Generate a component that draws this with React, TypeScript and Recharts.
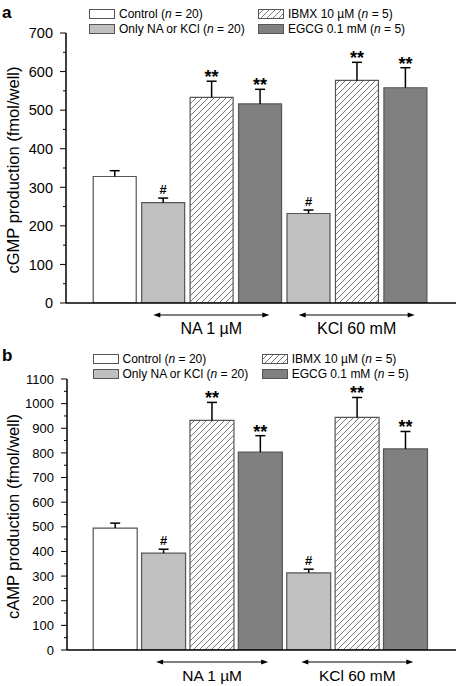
import React from 'react';
import { BarChart, Bar, XAxis, YAxis, Legend, LabelList, Cell } from 'recharts';

const FONT = '"Liberation Sans", Arial, Helvetica, sans-serif';

// Bar slots (x positions) and treatment of each bar
const positions = [1, 2, 3, 4, 5, 6, 7];
const treatments = ['control', 'only', 'ibmx', 'egcg', 'only', 'ibmx', 'egcg'];
const marks = ['', '#', '**', '**', '#', '**', '**'];

// Panel a: cGMP (fmol/well)
const cgmpValues = [328, 260, 533, 516, 232, 577, 558];
const cgmpErrTops = [343, 272, 575, 554, 241, 624, 610];
const cgmpTicks = [0, 50, 100, 150, 200, 250, 300, 350, 400, 450, 500, 550, 600, 650, 700];

// Panel b: cAMP (fmol/well)
const campValues = [495, 393, 932, 803, 313, 944, 816];
const campErrTops = [515, 409, 1005, 870, 328, 1025, 887];
const campTicks = [0, 50, 100, 150, 200, 250, 300, 350, 400, 450, 500, 550, 600, 650, 700, 750, 800, 850, 900, 950, 1000, 1050, 1100];

// Groups under the x axis
const groupCenters = [3, 6];
const groupLabels = ['NA 1 \u00b5M', 'KCl 60 mM'];

// Legend
const legendKeys = ['control', 'ibmx', 'only', 'egcg'];
const legendNames = ['Control', 'IBMX 10 \u00b5M', 'Only NA or KCl', 'EGCG 0.1 mM'];
const legendNs = [20, 5, 20, 5];

const fills: Record<string, string> = {
  control: '#ffffff',
  only: '#c0c0c0',
  ibmx: 'HATCH',
  egcg: '#808080',
};

function fillFor(key: string, hatchId: string) {
  return fills[key] === 'HATCH' ? `url(#${hatchId})` : fills[key];
}

function buildData(values: number[], errTops: number[]) {
  return positions.map((p, i) => ({
    pos: p,
    value: values[i],
    err: errTops[i] - values[i],
    mark: marks[i],
    key: treatments[i],
  }));
}

const HatchDef = ({ id }: { id: string }) => (
  <pattern id={id} patternUnits="userSpaceOnUse" width="6" height="6">
    <rect width="6" height="6" fill="#fff" />
    <path d="M0,6 L6,0 M-1,1 L1,-1 M5,7 L7,5" stroke="#555" strokeWidth="0.8" />
  </pattern>
);

const ErrShape = (props: any) => {
  const { x, y, width, height } = props;
  if (width == null) return null;
  const cx = x + width / 2;
  return (
    <g>
      <line x1={cx} x2={cx} y1={y} y2={y + height} stroke="#000" strokeWidth={1.5} />
      <line x1={cx - 5} x2={cx + 5} y1={y} y2={y} stroke="#000" strokeWidth={1.5} />
    </g>
  );
};

const MarkLabel = (props: any) => {
  const { x, y, width, value } = props;
  if (!value) return null;
  const big = value === '**';
  return (
    <text
      x={x + width / 2}
      y={big ? y + 2 : y - 4}
      textAnchor="middle"
      fontSize={big ? 18 : 13}
      fontWeight="bold"
      fontFamily={FONT}
      fill="#000"
    >
      {value}
    </text>
  );
};

const makeYTick = (fs: number) => (props: any) => {
  const { x, y, payload } = props;
  const major = payload.value % 100 === 0;
  return (
    <g>
      <line x1={x} x2={x - (major ? 6 : 3)} y1={y} y2={y} stroke="#000" strokeWidth={1} />
      {major && (
        <text x={x - 13} y={y} dy="0.36em" textAnchor="end" fontSize={fs} fontFamily={FONT} fill="#000">
          {payload.value}
        </text>
      )}
    </g>
  );
};

const makeXTick = (half: number, arrowDy: number, textDy: number, fs: number) => (props: any) => {
  const { x, y, payload } = props;
  const idx = groupCenters.indexOf(payload.value);
  if (idx < 0) return null;
  const ay = y + arrowDy;
  const x1 = x - half;
  const x2 = x + half;
  return (
    <g>
      <line x1={x1 + 5} x2={x2 - 5} y1={ay} y2={ay} stroke="#000" strokeWidth={1} />
      <path d={`M${x1},${ay} L${x1 + 7},${ay - 2.5} L${x1 + 7},${ay + 2.5} Z`} fill="#000" />
      <path d={`M${x2},${ay} L${x2 - 7},${ay - 2.5} L${x2 - 7},${ay + 2.5} Z`} fill="#000" />
      <text x={x} y={y + textDy} textAnchor="middle" fontSize={fs} fontFamily={FONT} fill="#000">
        {groupLabels[idx]}
      </text>
    </g>
  );
};

const makeLegend = (letter: string, letterTop: number, colX: number[], rowTop: number[], idp: string) => () => (
  <div style={{ position: 'relative', width: 456, height: 40, fontFamily: FONT }}>
    <div style={{ position: 'absolute', left: 2, top: letterTop, fontSize: 17, fontWeight: 'bold', lineHeight: 1 }}>
      {letter}
    </div>
    {legendKeys.map((k, i) => {
      const col = i % 2;
      const row = Math.floor(i / 2);
      const pid = `${idp}-lg-${i}`;
      return (
        <div
          key={k}
          style={{
            position: 'absolute',
            left: colX[col],
            top: rowTop[row] - 1,
            height: 12,
            display: 'flex',
            alignItems: 'center',
            whiteSpace: 'nowrap',
            fontSize: 12,
            lineHeight: '12px',
            color: '#000',
          }}
        >
          <svg width={26} height={10} style={{ display: 'block' }}>
            <defs>
              <HatchDef id={pid} />
            </defs>
            <rect x={0.5} y={0.5} width={25} height={9} fill={fillFor(k, pid)} stroke="#555" strokeWidth={1} />
          </svg>
          <span style={{ marginLeft: 4 }}>
            {legendNames[i]} (<i>n</i> = {legendNs[i]})
          </span>
        </div>
      );
    })}
  </div>
);

type PanelProps = {
  values: number[];
  errTops: number[];
  ticks: number[];
  yMax: number;
  height: number;
  marginTop: number;
  marginBottom: number;
  yWidth: number;
  xMax: number;
  label: string;
  tickFs: number;
  groupFs: number;
  half: number;
  textDy: number;
  letter: string;
  letterTop: number;
  colX: number[];
  rowTop: number[];
  idp: string;
  barSize: number;
};

const Panel = (p: PanelProps) => {
  const data = buildData(p.values, p.errTops);
  const hatchId = `${p.idp}-hatch`;
  const YTick = makeYTick(p.tickFs);
  const XTick = makeXTick(p.half, 12, p.textDy, p.groupFs);
  const LegendContent = makeLegend(p.letter, p.letterTop, p.colX, p.rowTop, p.idp);
  return (
    <BarChart
      width={456}
      height={p.height}
      data={data}
      margin={{ top: p.marginTop, right: 0, left: 0, bottom: p.marginBottom }}
    >
      <defs>
        <HatchDef id={hatchId} />
      </defs>
      <Legend
        content={<LegendContent />}
        layout="horizontal"
        verticalAlign="middle"
        align="center"
        wrapperStyle={{ position: 'absolute', top: 0, left: 0, width: 456, height: 40 }}
      />
      <XAxis
        type="number"
        dataKey="pos"
        domain={[0, p.xMax]}
        ticks={groupCenters}
        tick={<XTick />}
        tickLine={false}
        tickSize={0}
        tickMargin={0}
        interval={0}
        axisLine={{ stroke: '#000', strokeWidth: 1.5 }}
        height={30}
        allowDataOverflow
      />
      <YAxis
        type="number"
        domain={[0, p.yMax]}
        ticks={p.ticks}
        interval={0}
        width={p.yWidth}
        tick={<YTick />}
        tickLine={false}
        tickSize={0}
        tickMargin={0}
        axisLine={{ stroke: '#000', strokeWidth: 1.5 }}
        allowDataOverflow
        label={(lp: any) => {
          const vb = lp.viewBox || {};
          const cx = 13;
          const cy = (vb.y ?? 0) + (vb.height ?? 0) / 2 + 2;
          return (
            <text
              x={cx}
              y={cy}
              transform={`rotate(-90, ${cx}, ${cy})`}
              textAnchor="middle"
              dominantBaseline="central"
              fontSize={16.5}
              fontFamily={FONT}
              fill="#000"
            >
              {p.label}
            </text>
          );
        }}
      />
      <Bar dataKey="value" stackId="s" barSize={p.barSize} stroke="#555" strokeWidth={1.2} isAnimationActive={false}>
        {data.map((d, i) => (
          <Cell key={i} fill={fillFor(d.key, hatchId)} />
        ))}
      </Bar>
      <Bar dataKey="err" stackId="s" barSize={p.barSize} fill="none" shape={<ErrShape />} isAnimationActive={false}>
        <LabelList dataKey="mark" content={<MarkLabel />} />
      </Bar>
    </BarChart>
  );
};

export default function App() {
  return (
    <div style={{ position: 'absolute', left: 0, top: 0, width: 456, height: 686, background: '#fff', fontFamily: FONT }}>
      <div style={{ position: 'absolute', left: 0, top: 0 }}>
        <Panel
          values={cgmpValues}
          errTops={cgmpErrTops}
          ticks={cgmpTicks}
          yMax={700}
          height={345}
          marginTop={33}
          marginBottom={12}
          yWidth={66}
          xMax={8.05}
          label="cGMP production (fmol/well)"
          tickFs={14.5}
          groupFs={16}
          half={58}
          textDy={31}
          letter="a"
          letterTop={4}
          colX={[89, 258]}
          rowTop={[9.3, 24]}
          idp="pa"
          barSize={43}
        />
      </div>
      <div style={{ position: 'absolute', left: 0, top: 345 }}>
        <Panel
          values={campValues}
          errTops={campErrTops}
          ticks={campTicks}
          yMax={1100}
          height={341}
          marginTop={34}
          marginBottom={6}
          yWidth={67}
          xMax={8.04}
          label="cAMP production (fmol/well)"
          tickFs={13}
          groupFs={15.5}
          half={56}
          textDy={31}
          letter="b"
          letterTop={2.3}
          colX={[92.5, 261.7]}
          rowTop={[9.3, 24.3]}
          idp="pb"
          barSize={44}
        />
      </div>
    </div>
  );
}
